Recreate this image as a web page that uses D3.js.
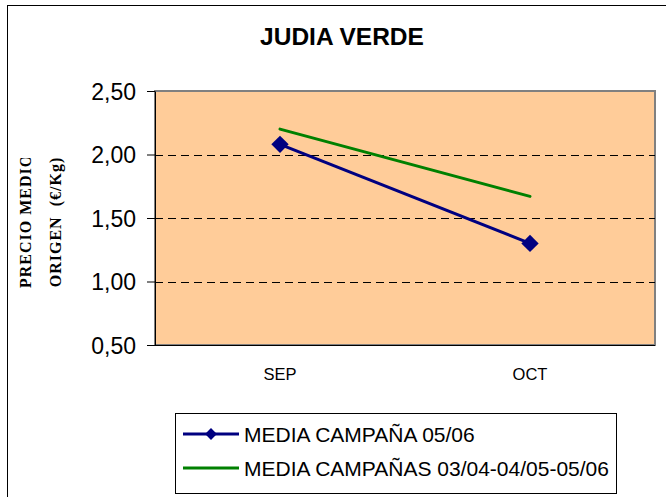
<!DOCTYPE html>
<html>
<head>
<meta charset="utf-8">
<script src="https://cdn.jsdelivr.net/npm/d3@7"></script>
<style>
  body { margin: 0; background: #fff; }
  svg { display: block; }
</style>
</head>
<body>
<div id="chart"></div>
<script>
var months = ["SEP", "OCT"];
var media0506 = [2.08, 1.30];
var mediaTres = [2.20, 1.67];
var yTicks = [0.5, 1.0, 1.5, 2.0, 2.5];
var seriesNames = ["MEDIA CAMPAÑA 05/06", "MEDIA CAMPAÑAS 03/04-04/05-05/06"];

var W = 666, H = 497;
var svg = d3.select("#chart").append("svg").attr("width", W).attr("height", H);

// outer frame
svg.append("rect").attr("x", 7.5).attr("y", 5.5).attr("width", 670).attr("height", 510)
  .attr("fill", "#fff").attr("stroke", "#000").attr("stroke-width", 1);

var pLeft = 155, pRight = 655, pTop = 91, pBottom = 345;

var x = d3.scaleBand().domain(months).range([pLeft, pRight]);
var y = d3.scaleLinear().domain([0.5, 2.5]).range([pBottom, pTop]);

// plot area
svg.append("rect").attr("x", pLeft).attr("y", pTop).attr("width", pRight - pLeft).attr("height", pBottom - pTop)
  .attr("fill", "#FFCC99").attr("stroke", "#808080").attr("stroke-width", 2);

// gridlines
svg.selectAll(".grid").data(yTicks.filter(function (d) { return d > 0.5 && d < 2.5; }))
  .enter().append("line")
  .attr("x1", pLeft).attr("x2", pRight)
  .attr("y1", function (d) { return Math.round(y(d)) + 0.5; })
  .attr("y2", function (d) { return Math.round(y(d)) + 0.5; })
  .attr("stroke", "#000").attr("stroke-dasharray", "8,5");

// axes
var yAxis = d3.axisLeft(y).tickValues(yTicks).tickSize(8).tickSizeOuter(0)
  .tickFormat(function (d) { return d3.format(".2f")(d).replace(".", ","); });
var gy = svg.append("g").attr("transform", "translate(" + pLeft + ",0)").call(yAxis);
gy.select(".domain").attr("stroke", "#000");
gy.selectAll("text").attr("font-family", "Liberation Sans, Arial, sans-serif")
  .attr("font-size", 23).attr("fill", "#000").attr("dx", -8).attr("dy", "0.36em");

svg.append("line").attr("x1", pLeft).attr("x2", pRight).attr("y1", pBottom + 0.5).attr("y2", pBottom + 0.5)
  .attr("stroke", "#000");

svg.selectAll(".xl").data(months).enter().append("text")
  .attr("x", function (d) { return x(d) + x.bandwidth() / 2; })
  .attr("y", 380)
  .attr("text-anchor", "middle")
  .attr("font-family", "Liberation Sans, Arial, sans-serif")
  .attr("font-size", 16.5)
  .text(function (d) { return d; });

// title
svg.append("text").attr("x", 342).attr("y", 45).attr("text-anchor", "middle")
  .attr("font-family", "Liberation Sans, Arial, sans-serif").attr("font-weight", "bold")
  .attr("font-size", 24.5).text("JUDIA VERDE");

// y label (first line is clipped like the original)
svg.append("clipPath").attr("id", "ylclip").append("rect")
  .attr("x", 0).attr("y", 158).attr("width", 100).attr("height", 200);
var yl = svg.append("g").attr("clip-path", "url(#ylclip)");
yl.append("text").attr("transform", "translate(31,288) rotate(-90)")
  .attr("font-family", "Liberation Serif, Times New Roman, serif").attr("font-weight", "bold")
  .attr("font-size", 16).attr("letter-spacing", 1).text("PRECIO MEDIO");
svg.append("text").attr("transform", "translate(61,222) rotate(-90)")
  .attr("text-anchor", "middle")
  .attr("font-family", "Liberation Serif, Times New Roman, serif").attr("font-weight", "bold")
  .attr("font-size", 16).attr("letter-spacing", 1).attr("xml:space", "preserve").text("ORIGEN  (€/Kg)");

// lines
var cx = function (i) { return x(months[i]) + x.bandwidth() / 2; };
var line = d3.line().x(function (d, i) { return cx(i); }).y(function (d) { return y(d); });

svg.append("path").datum(mediaTres).attr("d", line)
  .attr("fill", "none").attr("stroke", "#008000").attr("stroke-width", 3).attr("stroke-linecap", "round");
svg.append("path").datum(media0506).attr("d", line)
  .attr("fill", "none").attr("stroke", "#000080").attr("stroke-width", 3);

var diamond = d3.symbol().type(d3.symbolSquare).size(150);
svg.selectAll(".mk").data(media0506).enter().append("path")
  .attr("d", diamond)
  .attr("transform", function (d, i) { return "translate(" + cx(i) + "," + y(d) + ") rotate(45)"; })
  .attr("fill", "#000080");

// legend
var lg = svg.append("g");
lg.append("rect").attr("x", 175.5).attr("y", 413.5).attr("width", 441).attr("height", 80)
  .attr("fill", "#fff").attr("stroke", "#000");
var colors = ["#000080", "#008000"];
seriesNames.forEach(function (name, i) {
  var yy = 434 + i * 34;
  lg.append("line").attr("x1", 183).attr("x2", 239).attr("y1", yy).attr("y2", yy)
    .attr("stroke", colors[i]).attr("stroke-width", 3);
  if (i === 0) {
    lg.append("path").attr("d", d3.symbol().type(d3.symbolSquare).size(70))
      .attr("transform", "translate(211," + yy + ") rotate(45)").attr("fill", colors[i]);
  }
  lg.append("text").attr("x", 244).attr("y", yy + 7.5)
    .attr("font-family", "Liberation Sans, Arial, sans-serif").attr("font-size", 21)
    .text(name);
});
</script>
</body>
</html>
